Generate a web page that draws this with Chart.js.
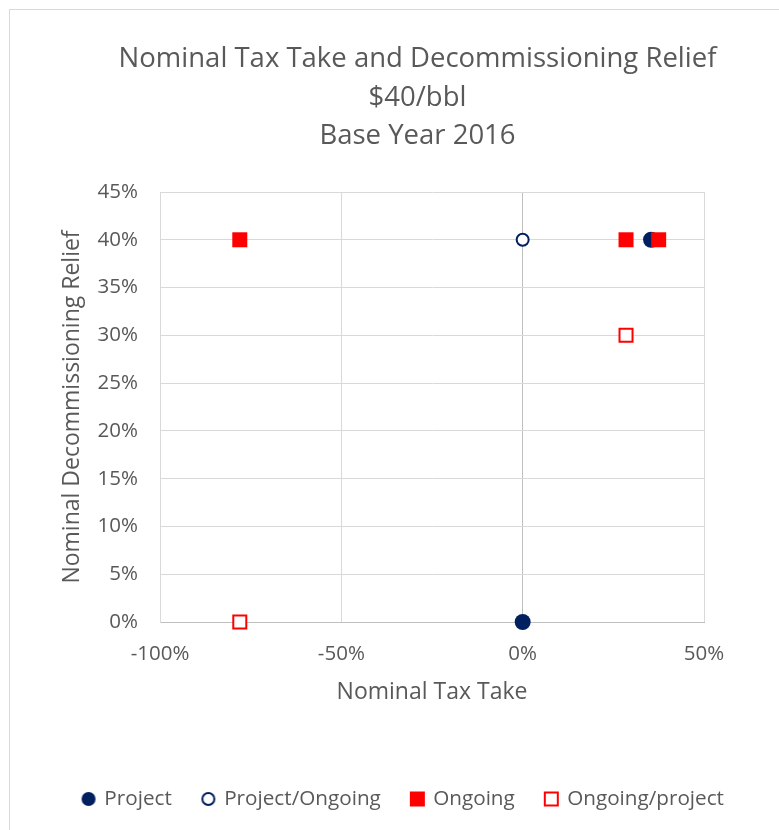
<!DOCTYPE html>
<html>
<head>
<meta charset="utf-8">
<script src="https://cdn.jsdelivr.net/npm/chart.js@4.4.0/dist/chart.umd.min.js"></script>
<style>
  html, body { margin: 0; padding: 0; background: #fff; overflow: hidden; }
  #frame { position: absolute; left: 9px; top: 9px; width: 830px; height: 840px;
           border-left: 1px solid #d9d9d9; border-top: 1px solid #d9d9d9; }
  #wrap { position: absolute; left: 0; top: 0; width: 815px; height: 820px; }
</style>
</head>
<body>
<div id="frame"><div id="wrap"><canvas id="taxChart"></canvas></div></div>
<script>
// tax take (x, %) vs decommissioning relief (y, %)
const projectX = [0, 35.4];
const projectY = [0, 40];
const projectOngoingX = [0];
const projectOngoingY = [40];
const ongoingX = [-78, 28.5, 37.5];
const ongoingY = [40, 40, 40];
const ongoingProjectX = [-78, 28.5];
const ongoingProjectY = [0, 30];

const titleLines = ['Nominal Tax Take and Decommissioning Relief', '$40/bbl', 'Base Year 2016'];

const NAVY = '#002060';
const RED = '#ff0000';
const TEXT = '#595959';
const FONT = 'Open Sans';

const toPoints = (xs, ys) => xs.map((x, i) => ({ x: x, y: ys[i] }));

// small marker images for the legend
const makeMarker = (shape, color, filled, size) => {
    const c = document.createElement('canvas');
    c.width = size + 2;
    c.height = size + 2;
    const g = c.getContext('2d');
    const m = (size + 2) / 2;
    g.beginPath();
    if (shape === 'circle') {
        g.arc(m, m, filled ? size / 2 : size / 2 - 1, 0, Math.PI * 2);
    } else {
        const h = filled ? size / 2 : size / 2 - 1;
        g.rect(m - h, m - h, h * 2, h * 2);
    }
    if (filled) {
        g.fillStyle = color;
        g.fill();
    } else {
        g.fillStyle = '#fff';
        g.fill();
        g.lineWidth = 2;
        g.strokeStyle = color;
        g.stroke();
    }
    return c;
};

const legendMarkers = [
    makeMarker('circle', NAVY, true, 14),
    makeMarker('circle', NAVY, false, 14),
    makeMarker('rect', RED, true, 15),
    makeMarker('rect', RED, false, 15)
];

const gridColor = ctx => ctx.tick && ctx.tick.value === 0 ? '#bfbfbf' : '#d9d9d9';

// nudge the legend row a little to the left of centre
const legendShift = {
    id: 'legendShift',
    afterLayout: chart => {
        chart.legend.left -= 14;
        chart.legend.right -= 14;
    }
};

const ctx = document.getElementById('taxChart').getContext('2d');

new Chart(ctx, {
    type: 'scatter',
    data: {
        datasets: [
            {
                label: 'Project',
                data: toPoints(projectX, projectY),
                pointStyle: 'circle',
                pointRadius: 8,
                pointBorderWidth: 0,
                backgroundColor: NAVY,
                borderColor: NAVY,
                clip: false,
                order: 2
            },
            {
                label: 'Project/Ongoing',
                data: toPoints(projectOngoingX, projectOngoingY),
                pointStyle: 'circle',
                pointRadius: 6,
                pointBorderWidth: 2,
                backgroundColor: '#fff',
                borderColor: NAVY,
                clip: false,
                order: 2
            },
            {
                label: 'Ongoing',
                data: toPoints(ongoingX, ongoingY),
                pointStyle: 'rect',
                pointRadius: 10.6,
                pointBorderWidth: 0,
                backgroundColor: RED,
                borderColor: RED,
                clip: false,
                order: 0
            },
            {
                label: 'Ongoing/project',
                data: toPoints(ongoingProjectX, ongoingProjectY),
                pointStyle: 'rect',
                pointRadius: 9.2,
                pointBorderWidth: 2,
                backgroundColor: '#fff',
                borderColor: RED,
                clip: false,
                order: 1
            }
        ]
    },
    options: {
        responsive: true,
        maintainAspectRatio: false,
        animation: false,
        layout: { padding: { left: 0, right: 0, top: 0, bottom: 10.65 } },
        plugins: {
            tooltip: { enabled: false },
            title: {
                display: true,
                text: titleLines,
                color: TEXT,
                font: { family: FONT, size: 27.5, weight: 'normal', lineHeight: 1.4 },
                padding: { top: 30, bottom: 36.5 }
            },
            legend: {
                position: 'bottom',
                labels: {
                    color: TEXT,
                    font: { family: FONT, size: 20.7 },
                    usePointStyle: true,
                    boxWidth: 11,
                    boxHeight: 14,
                    padding: 31,
                    generateLabels: chart => chart.data.datasets.map((ds, i) => ({
                        text: ds.label,
                        pointStyle: legendMarkers[i],
                        fillStyle: ds.backgroundColor,
                        strokeStyle: ds.borderColor,
                        lineWidth: 0,
                        fontColor: TEXT,
                        hidden: false,
                        datasetIndex: i
                    }))
                }
            }
        },
        scales: {
            x: {
                type: 'linear',
                min: -100,
                max: 50,
                ticks: {
                    stepSize: 50,
                    color: TEXT,
                    padding: 20,
                    font: { family: FONT, size: 20.5 },
                    callback: v => v + '%'
                },
                grid: { color: gridColor, drawTicks: false },
                border: { color: '#bfbfbf' },
                title: {
                    display: true,
                    text: 'Nominal Tax Take',
                    color: TEXT,
                    font: { family: FONT, size: 23 },
                    padding: { top: 0, bottom: 51 }
                },
                afterFit: scale => { scale.height = 135.65; }
            },
            y: {
                type: 'linear',
                min: 0,
                max: 45,
                ticks: {
                    stepSize: 5,
                    color: TEXT,
                    padding: 22,
                    font: { family: FONT, size: 20.5 },
                    callback: v => v + '%'
                },
                grid: { color: gridColor, drawTicks: false },
                border: { color: '#d9d9d9' },
                title: {
                    display: true,
                    text: 'Nominal Decommissioning Relief',
                    color: TEXT,
                    font: { family: FONT, size: 23 },
                    padding: { top: 49, bottom: 0 }
                },
                afterFit: scale => { scale.width = 150; }
            },
            // empty right-hand axis keeps the plot narrower than the frame
            y2: {
                type: 'linear',
                position: 'right',
                display: true,
                grid: { display: false },
                ticks: { display: false },
                border: { display: false },
                afterFit: scale => { scale.width = 121; }
            }
        }
    },
    plugins: [legendShift]
});
</script>
</body>
</html>
